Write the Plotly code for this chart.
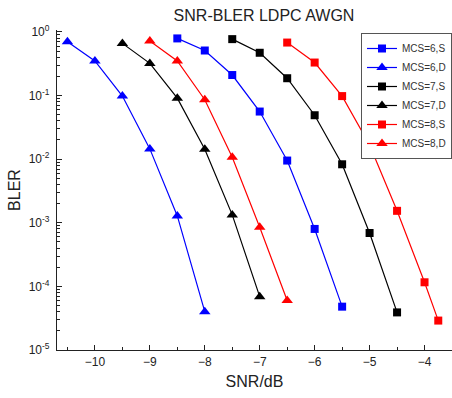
import plotly.graph_objects as go

# ---- data ----
snr_6S = [-8.5, -8, -7.5, -7, -6.5, -6, -5.5]
bler_6S = [0.79, 0.51, 0.21, 0.056, 0.0095, 8.0e-4, 4.8e-5]
snr_6D = [-10.5, -10, -9.5, -9, -8.5, -8]
bler_6D = [0.70, 0.35, 0.098, 0.0145, 0.00128, 4.0e-5]
snr_7S = [-7.5, -7, -6.5, -6, -5.5, -5, -4.5]
bler_7S = [0.77, 0.47, 0.187, 0.049, 0.0083, 6.9e-4, 3.9e-5]
snr_7D = [-9.5, -9, -8.5, -8, -7.5, -7]
bler_7D = [0.66, 0.32, 0.091, 0.0143, 0.00133, 6.9e-5]
snr_8S = [-6.5, -6, -5.5, -5, -4.5, -4, -3.75]
bler_8S = [0.68, 0.33, 0.098, 0.0167, 0.00154, 1.16e-4, 2.9e-5]
snr_8D = [-9, -8.5, -8, -7.5, -7, -6.5]
bler_8D = [0.72, 0.35, 0.086, 0.0107, 8.5e-4, 6.0e-5]

x_ticks = [-10, -9, -8, -7, -6, -5, -4]
y_tickvals = [1e-5, 1e-4, 1e-3, 1e-2, 1e-1, 1]
y_ticktext = ["10<sup>-5</sup>", "10<sup>-4</sup>", "10<sup>-3</sup>",
              "10<sup>-2</sup>", "10<sup>-1</sup>", "10<sup>0</sup>"]

series = [
    ("MCS=6,S", snr_6S, bler_6S, "#0000FF", "square"),
    ("MCS=6,D", snr_6D, bler_6D, "#0000FF", "triangle-up"),
    ("MCS=7,S", snr_7S, bler_7S, "#000000", "square"),
    ("MCS=7,D", snr_7D, bler_7D, "#000000", "triangle-up"),
    ("MCS=8,S", snr_8S, bler_8S, "#FF0000", "square"),
    ("MCS=8,D", snr_8D, bler_8D, "#FF0000", "triangle-up"),
]

FONT = "Arial, Liberation Sans, sans-serif"

fig = go.Figure()
for name, xs, ys, col, sym in series:
    fig.add_trace(go.Scatter(
        x=xs, y=ys, name=name, mode="lines+markers",
        line=dict(color=col, width=1.2),
        marker=dict(symbol=sym, color=col, size=8 if sym == "square" else 10),
    ))

minor_y = [k * 10 ** e for e in range(-5, 0) for k in range(2, 10)]

fig.update_layout(
    width=452, height=398,
    margin=dict(l=57, r=0, t=30, b=48, autoexpand=False),
    paper_bgcolor="white", plot_bgcolor="white",
    font=dict(family=FONT, color="#222222"),
    title=dict(text="SNR-BLER LDPC AWGN", x=(264 - 57) / 395, xref="paper",
               xanchor="center", y=1 - 15 / 398, yref="container", yanchor="middle",
               font=dict(size=16, family=FONT, color="#222222")),
    showlegend=True,
    legend=dict(x=1.0, y=1 - 3 / 320, xanchor="right", yanchor="top",
                bgcolor="white", bordercolor="#555555", borderwidth=1,
                font=dict(size=10, family=FONT, color="#333333"),
                tracegroupgap=0),
)

fig.update_xaxes(
    range=[-10.69, -3.5], tickvals=x_ticks, ticks="inside", ticklen=5,
    tickwidth=1.2, tickcolor="#222222", automargin=False,
    minor=dict(ticks="inside", dtick=0.5, ticklen=3, tickwidth=1, tickcolor="#222222"),
    showline=True, linecolor="#222222", linewidth=1.3, showgrid=False, zeroline=False,
    tickfont=dict(size=12, family=FONT, color="#222222"),
    title=dict(text="SNR/dB", font=dict(size=16, family=FONT, color="#222222"), standoff=8),
)
fig.update_yaxes(
    type="log", range=[-5, 0.03], tickvals=y_tickvals, ticktext=y_ticktext,
    ticks="inside", ticklen=5, tickwidth=1.2, tickcolor="#222222", automargin=False,
    minor=dict(ticks="inside", tickvals=minor_y, ticklen=3, tickwidth=1, tickcolor="#222222"),
    showline=True, linecolor="#222222", linewidth=1.3, showgrid=False, zeroline=False,
    tickfont=dict(size=12, family=FONT, color="#222222"),
    ticklabelstandoff=4,
    title=dict(text="BLER", font=dict(size=16, family=FONT, color="#222222"), standoff=4),
)

fig.write_html("out.html", config={"displayModeBar": False},
               post_script="document.body.style.margin='0';")
